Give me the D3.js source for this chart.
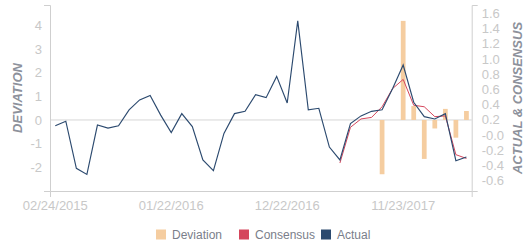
<!DOCTYPE html>
<html>
<head>
<meta charset="utf-8">
<script src="https://cdn.jsdelivr.net/npm/d3@7"></script>
<style>
    body { margin: 0; background: #fff; }
    svg { display: block; font-family: "Liberation Sans", Arial, sans-serif; }
</style>
</head>
<body>
<svg id="chart" width="531" height="250"></svg>
<script>
// monthly release dates
var categories = [
    "02/24/2015", "03/24/2015", "04/22/2015", "05/21/2015", "06/24/2015", "07/23/2015", "08/25/2015", "09/24/2015",
    "10/22/2015", "11/24/2015", "12/22/2015", "01/22/2016", "02/24/2016", "03/23/2016", "04/22/2016", "05/24/2016",
    "06/22/2016", "07/22/2016", "08/24/2016", "09/22/2016", "10/24/2016", "11/22/2016", "12/22/2016", "01/24/2017",
    "02/23/2017", "03/23/2017", "04/24/2017", "05/24/2017", "06/22/2017", "07/24/2017", "08/23/2017", "09/22/2017",
    "10/24/2017", "11/23/2017", "12/22/2017", "01/24/2018", "02/22/2018", "03/22/2018", "04/24/2018", "05/23/2018"
];
var actual = [
    0.12, 0.18, -0.44, -0.52, 0.13, 0.09, 0.12, 0.33, 0.46, 0.52,
    0.26, 0.03, 0.28, 0.11, -0.33, -0.47, 0.02, 0.28, 0.31, 0.53,
    0.49, 0.77, 0.42, 1.50, 0.33, 0.35, -0.16, -0.33, 0.15, 0.25,
    0.31, 0.33, 0.61, 0.92, 0.43, 0.24, 0.21, 0.28, -0.34, -0.29
];
var consensus = [
    null, null, null, null, null, null, null, null, null, null,
    null, null, null, null, null, null, null, null, null, null,
    null, null, null, null, null, null, null, -0.37, 0.10, 0.21,
    0.23, 0.37, 0.61, 0.73, 0.39, 0.37, 0.24, 0.25, -0.26, -0.31
];
var deviation = [
    null, null, null, null, null, null, null, null, null, null,
    null, null, null, null, null, null, null, null, null, null,
    null, null, null, null, null, null, null, null, null, null,
    null, -2.3, null, 4.2, 0.59, -1.65, -0.36, 0.47, -0.75, 0.38
];
var xTickLabels = ["02/24/2015", "01/22/2016", "12/22/2016", "11/23/2017"];
var leftTicks = [-2, -1, 0, 1, 2, 3, 4];
var rightTicks = [-0.6, -0.4, -0.2, 0, 0.2, 0.4, 0.6, 0.8, 1.0, 1.2, 1.4, 1.6];
var seriesNames = ["Deviation", "Consensus", "Actual"];

(function () {
    var colors = { Deviation: "#f5cda0", Consensus: "#d5465c", Actual: "#2c4a6f" };
    var plotLeft = 50, plotRight = 471.7, plotTop = 5, plotBottom = 191;

    var svg = d3.select("#chart");

    var x = d3.scaleBand().domain(categories).range([plotLeft, plotRight])
        .paddingInner(0.55).paddingOuter(0.275);
    var yL = d3.scaleLinear().domain([-3.01, 4.873]).range([plotBottom, plotTop]);
    var yR = d3.scaleLinear().domain([-0.738, 1.709]).range([plotBottom, plotTop]);

    function cx(d, i) { return x(categories[i]) + x.bandwidth() / 2; }

    // zero line of the deviation axis
    svg.append("line")
        .attr("x1", plotLeft).attr("x2", plotRight)
        .attr("y1", yL(0)).attr("y2", yL(0))
        .attr("stroke", "#d6d6d6").attr("stroke-width", 1);

    // deviation bars
    svg.append("g").selectAll("rect")
        .data(deviation.map(function (v, i) { return { v: v, i: i }; }).filter(function (d) { return d.v != null; }))
        .enter().append("rect")
        .attr("x", function (d) { return x(categories[d.i]); })
        .attr("width", x.bandwidth())
        .attr("y", function (d) { return Math.min(yL(d.v), yL(0)); })
        .attr("height", function (d) { return Math.abs(yL(d.v) - yL(0)); })
        .attr("fill", colors.Deviation);

    var line = d3.line()
        .defined(function (d) { return d != null; })
        .x(cx)
        .y(function (d) { return yR(d); });

    svg.append("path").datum(consensus)
        .attr("d", line).attr("fill", "none")
        .attr("stroke", colors.Consensus).attr("stroke-width", 1);
    svg.append("path").datum(actual)
        .attr("d", line).attr("fill", "none")
        .attr("stroke", colors.Actual).attr("stroke-width", 1.15);

    // axes
    var axisColor = "#cfcfcf", tickColor = "#c8c8c8";
    function styleAxis(g) {
        g.select(".domain").attr("stroke", axisColor);
        g.selectAll(".tick line").remove();
        g.selectAll(".tick text").attr("fill", tickColor)
            .style("font-size", "13px").style("font-family", "'Liberation Sans', Arial, sans-serif");
    }

    svg.append("g").attr("transform", "translate(0," + plotBottom + ")")
        .call(d3.axisBottom(x).tickValues(xTickLabels).tickSizeInner(0).tickSizeOuter(6).tickPadding(10))
        .call(styleAxis);

    svg.append("g").attr("transform", "translate(" + plotLeft + ",0)")
        .call(d3.axisLeft(yL).tickValues(leftTicks).tickSizeInner(0).tickSizeOuter(6).tickPadding(8)
            .tickFormat(function (d) { return d < 0 ? "-" + Math.abs(d) : String(d); }))
        .call(styleAxis);

    svg.append("g").attr("transform", "translate(" + plotRight + ",0)")
        .call(d3.axisRight(yR).tickValues(rightTicks).tickSizeInner(0).tickSizeOuter(6).tickPadding(10)
            .tickFormat(function (d) { return d <= 0 ? "-" + Math.abs(d).toFixed(1) : d.toFixed(1); }))
        .call(styleAxis);

    // axis titles
    svg.append("text")
        .attr("transform", "translate(22," + ((plotTop + plotBottom) / 2) + ") rotate(-90)")
        .attr("text-anchor", "middle")
        .style("font-size", "13px").style("font-weight", "bold").style("font-style", "italic")
        .attr("fill", "#8d919b")
        .text("DEVIATION");
    svg.append("text")
        .attr("transform", "translate(522," + ((plotTop + plotBottom) / 2) + ") rotate(-90)")
        .attr("text-anchor", "middle")
        .style("font-size", "13px").style("font-weight", "bold").style("font-style", "italic")
        .attr("fill", "#8d919b")
        .text("ACTUAL & CONSENSUS");

    // legend
    var legendX = [156, 239, 321];
    var legend = svg.append("g").selectAll("g")
        .data(seriesNames)
        .enter().append("g")
        .attr("transform", function (d, i) { return "translate(" + legendX[i] + ",229.5)"; });
    legend.append("rect")
        .attr("width", 10).attr("height", 10)
        .attr("fill", function (d) { return colors[d]; });
    legend.append("text")
        .attr("x", 16).attr("y", 5).attr("dy", "0.35em")
        .style("font-size", "12px")
        .attr("fill", "#7a7e8a")
        .text(function (d) { return d; });
})();
</script>
</body>
</html>
